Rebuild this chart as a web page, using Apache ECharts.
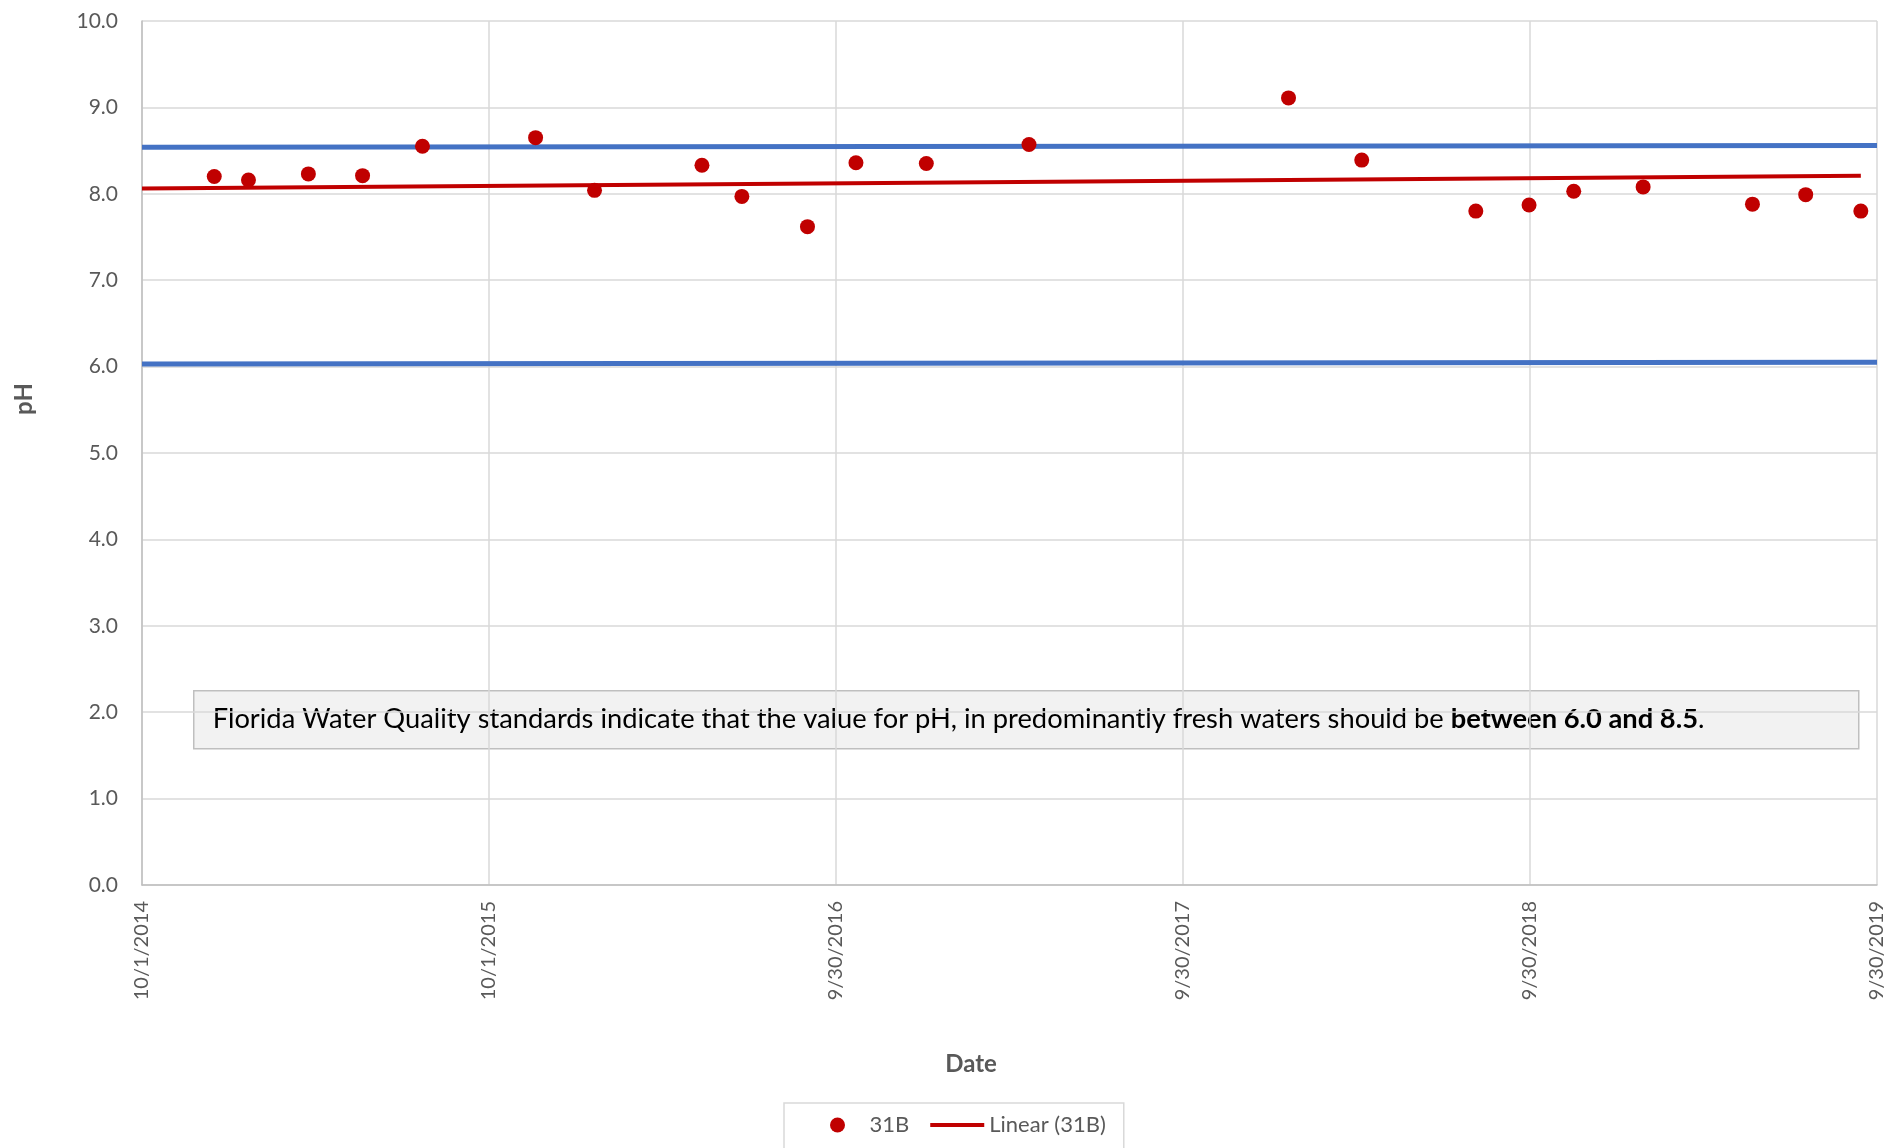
<!DOCTYPE html>
<html>
<head>
<meta charset="utf-8">
<script src="https://cdn.jsdelivr.net/npm/echarts@6/dist/echarts.min.js"></script>
<style>
html,body{margin:0;padding:0;background:#fff;}
#chart{width:1890px;height:1148px;}
</style>
</head>
<body>
<div id="chart"></div>
<script>
// ---- data ----
const sampleDates = ['2014-12-16','2015-01-21','2015-03-25','2015-05-21','2015-07-23','2015-11-19','2016-01-20','2016-05-12','2016-06-23','2016-08-31','2016-10-21','2017-01-03','2017-04-21','2018-01-19','2018-04-06','2018-08-04','2018-09-29','2018-11-15','2019-01-27','2019-05-22','2019-07-17','2019-09-13'];
const phValues = [8.20,8.16,8.23,8.21,8.55,8.65,8.04,8.33,7.97,7.62,8.36,8.35,8.57,9.11,8.39,7.80,7.87,8.03,8.08,7.88,7.99,7.80];
const trendDates = ['2014-10-01','2019-09-13'];
const trendValues = [8.06, 8.21];
const limitDates = ['2014-10-01','2019-09-30'];
const upperLimit = [8.54, 8.56];
const lowerLimit = [6.03, 6.05];
const xTickLabels = ['10/1/2014','10/1/2015','9/30/2016','9/30/2017','9/30/2018','9/30/2019'];
const yTicks = [0,1,2,3,4,5,6,7,8,9,10];

const AXIS_START = '2014-10-01';
function dayOffset(s){
  const a = s.split('-').map(Number);
  const b = AXIS_START.split('-').map(Number);
  return (Date.UTC(a[0],a[1]-1,a[2]) - Date.UTC(b[0],b[1]-1,b[2]))/86400000;
}
const pair = (ds, vs) => ds.map((d,i)=>[dayOffset(d), vs[i]]);

const FONT = 'Lato';
const GREY = '#595959';
const chart = echarts.init(document.getElementById('chart'));
const xMax = dayOffset('2019-09-30');
const xInterval = xMax / (xTickLabels.length - 1);

chart.setOption({
  animation:false,
  backgroundColor:'#fff',
  grid:{left:142, right:13, top:21, bottom:263, containLabel:false},
  xAxis:{
    type:'value', min:0, max:xMax, interval:xInterval,
    axisLine:{show:true, lineStyle:{color:'#BFBFBF', width:1.5}},
    axisTick:{show:false},
    splitLine:{show:true, lineStyle:{color:'#D9D9D9', width:1.5}},
    axisLabel:{rotate:90, margin:16, color:GREY, fontFamily:FONT, fontSize:20,
      formatter:(v)=>xTickLabels[Math.round(v/xInterval)] || ''}
  },
  yAxis:{
    type:'value', min:yTicks[0], max:yTicks[yTicks.length-1], interval:1,
    axisLine:{show:true, lineStyle:{color:'#BFBFBF', width:1.5}},
    axisTick:{show:false},
    splitLine:{show:true, lineStyle:{color:'#D9D9D9', width:1.5}},
    axisLabel:{margin:24, color:GREY, fontFamily:FONT, fontSize:21,
      formatter:(v)=>v.toFixed(1)}
  },
  legend:{
    data:[{name:'31B', icon:'circle'},
          {name:'Linear (31B)', itemStyle:{opacity:0}, lineStyle:{width:4, color:'#C00000'}}],
    left:784, top:1103,
    padding:[11,18,20,46],
    itemWidth:54, itemHeight:15, itemGap:19,
    borderColor:'#D9D9D9', borderWidth:1.5,
    textStyle:{color:GREY, fontFamily:FONT, fontSize:22}
  },
  graphic:[
    {type:'text', x:24, y:399, rotation:Math.PI/2,
      style:{text:'pH', font:'bold 24px Lato', fill:GREY, align:'center', verticalAlign:'middle'}},
    {type:'text', x:971, y:1064,
      style:{text:'Date', font:'bold 24px Lato', fill:GREY, align:'center', verticalAlign:'middle'}},
    {type:'group', left:193, top:690, z:100, children:[
      {type:'rect', shape:{x:0,y:0,width:1665,height:58},
        style:{fill:'#F2F2F2', stroke:'#BFBFBF', lineWidth:1.5}},
      {type:'text', x:19, y:28,
        style:{
          text:'{n|Florida Water Quality standards indicate that the value for pH, in predominantly fresh waters should be }{b|between 6.0 and 8.5}{n|.}',
          verticalAlign:'middle',
          rich:{
            n:{fontFamily:FONT, fontSize:27.3, fill:'#000', color:'#000'},
            b:{fontFamily:FONT, fontSize:27.3, fontWeight:'bold', fill:'#000', color:'#000'}
          }
        }}
    ]}
  ],
  series:[
    {name:'upper', type:'line', data:pair(limitDates, upperLimit), symbol:'none',
      lineStyle:{color:'#4472C4', width:5}, itemStyle:{color:'#4472C4'}, z:2, silent:true},
    {name:'lower', type:'line', data:pair(limitDates, lowerLimit), symbol:'none',
      lineStyle:{color:'#4472C4', width:5}, itemStyle:{color:'#4472C4'}, z:2, silent:true},
    {name:'Linear (31B)', type:'line', data:pair(trendDates, trendValues), symbol:'none',
      lineStyle:{color:'#C00000', width:4}, itemStyle:{color:'#C00000'}, z:3},
    {name:'31B', type:'scatter', data:pair(sampleDates, phValues), symbol:'circle', symbolSize:15,
      itemStyle:{color:'#C00000', opacity:1}, z:5}
  ]
});
</script>
</body>
</html>
